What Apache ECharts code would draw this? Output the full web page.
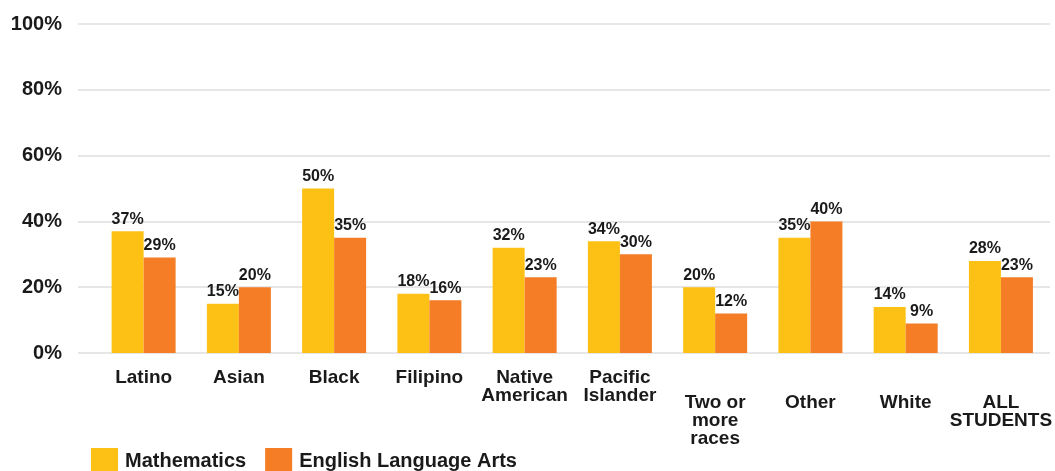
<!DOCTYPE html>
<html><head><meta charset="utf-8">
<script src="https://cdn.jsdelivr.net/npm/echarts@6/dist/echarts.min.js"></script>
<style>html,body{margin:0;padding:0;background:#fff}#c{width:1055px;height:471px}</style>
</head><body><div id="c"></div>
<script>
const categories = ['Latino','Asian','Black','Filipino','Native\nAmerican','Pacific\nIslander','Two or\nmore\nraces','Other','White','ALL\nSTUDENTS'];
const lowered = [false,false,false,false,false,false,true,true,true,true];
const mathValues = [37,15,50,18,32,34,20,35,14,28];
const elaValues = [29,20,35,16,23,30,12,40,9,23];
const yTicks = [0,20,40,60,80,100];

const FONT = '"Liberation Sans", Arial, Helvetica, sans-serif';
const TXT = '#1a1a1a';
const chart = echarts.init(document.getElementById('c'));
const barLabel = {show:true, position:'top', distance:4, formatter:'{c}%', fontFamily:FONT, fontWeight:'bold', fontSize:16, color:TXT};
chart.setOption({
  animation:false,
  textStyle:{fontFamily:FONT},
  grid:[
    {left:96, right:4, top:24, bottom:118},
    {left:78, right:5, top:24, bottom:118}
  ],
  legend:{
    left:86, top:443, itemWidth:27, itemHeight:27, itemGap:19, icon:'rect',
    textStyle:{fontFamily:FONT, fontWeight:'bold', fontSize:20, color:TXT, padding:[0,0,0,2]},
    data:['Mathematics','English Language Arts']
  },
  xAxis:[
    {type:'category', gridIndex:0,
     data:categories.map((c,i)=> lowered[i] ? {value:c, textStyle:{padding:[25,0,0,0]}} : c),
     axisLine:{show:false}, axisTick:{show:false},
     axisLabel:{interval:0, margin:16, fontFamily:FONT, fontWeight:'bold', fontSize:19, lineHeight:18, color:TXT, verticalAlign:'top'}},
    {type:'value', gridIndex:1, show:false}
  ],
  yAxis:[
    {type:'value', gridIndex:0, min:0, max:100, interval:20, show:false},
    {type:'value', gridIndex:1, min:yTicks[0], max:yTicks[yTicks.length-1], interval:20,
     axisLine:{show:false}, axisTick:{show:false},
     splitLine:{lineStyle:{color:'#e6e6e6', width:2}},
     axisLabel:{margin:16, formatter:'{value}%', fontFamily:FONT, fontWeight:'bold', fontSize:20, color:TXT}}
  ],
  series:[
    {name:'Mathematics', type:'bar', xAxisIndex:0, yAxisIndex:0, data:mathValues, barWidth:32, barGap:'0%', itemStyle:{color:'#fdc014'}, label:barLabel, z:3},
    {name:'English Language Arts', type:'bar', xAxisIndex:0, yAxisIndex:0, data:elaValues, barWidth:32, barGap:'0%', itemStyle:{color:'#f47d26'}, label:barLabel, z:3}
  ]
});
</script></body></html>
